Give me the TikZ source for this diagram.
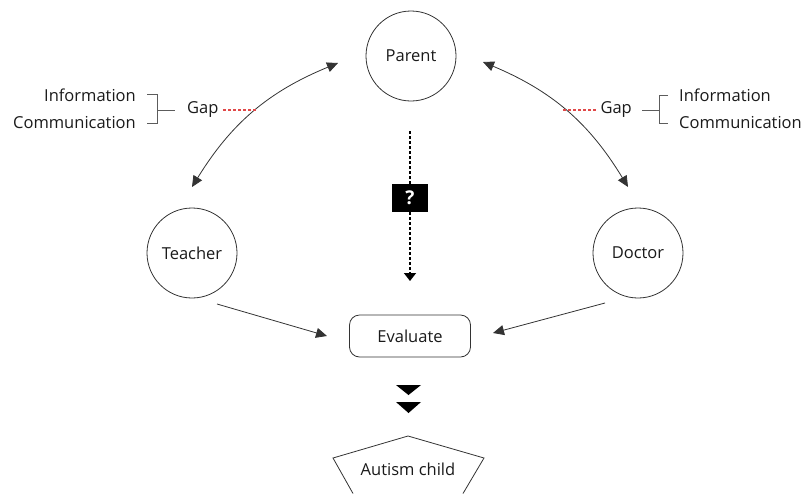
\documentclass[tikz,border=0pt]{standalone}
\usepackage{fontspec}
\setmainfont{Open Sans}
\usetikzlibrary{arrows.meta,shapes.geometric}
\definecolor{linec}{HTML}{333333}
\definecolor{txtc}{HTML}{1A1A1A}
\definecolor{gapred}{HTML}{E04848}
\begin{document}
\begin{tikzpicture}[x=1pt,y=-1pt,
  lbl/.style={font=\fontsize{16.5}{18}\selectfont, text=txtc, inner sep=0pt},
  circ/.style={draw=linec, circle, minimum size=90pt, inner sep=0pt, line width=0.8pt, font=\fontsize{16.5}{18}\selectfont, text=txtc},
  conn/.style={draw=linec, line width=0.8pt, -{Triangle[length=11pt,width=10pt]}},
  biconn/.style={draw=linec, line width=0.8pt, {Triangle[length=11pt,width=10pt]}-{Triangle[length=11pt,width=10pt]}},
  brk/.style={draw=linec!80, line width=0.8pt},
  gapline/.style={draw=gapred, line width=1.1pt, dash pattern=on 3pt off 2pt},
  dotline/.style={draw=black, line width=1.6pt, dash pattern=on 3pt off 2pt},
]
\useasboundingbox (0,0) rectangle (805,493);

% main nodes
\node[circ] (parent) at (411,56) {Parent};
\node[circ] (teacher) at (192,253) {Teacher};
\node[circ] (doctor) at (638,253) {Doctor};
\node[draw=linec, line width=0.8pt, rounded corners=10pt, minimum width=121pt, minimum height=42pt, font=\fontsize{16.5}{18}\selectfont, text=txtc] (evaluate) at (410,336) {Evaluate};

% curved double arrows
\coordinate (pl) at (338,63);
\coordinate (tl) at (192,187);
\coordinate (pr) at (483,62);
\coordinate (dr) at (628,187);
\draw[biconn] (pl) to[bend right=18] (tl);
\draw[biconn] (pr) to[bend left=18] (dr);

% arrows into evaluate
\coordinate (ts) at (217,304);
\coordinate (te) at (327,336);
\coordinate (ds) at (605,303);
\coordinate (de) at (493,333);
\draw[conn] (ts) -- (te);
\draw[conn] (ds) -- (de);

% dotted arrow with question box
\coordinate (dtop) at (410,131);
\coordinate (dtip) at (410,281);
\node[fill=black, minimum width=36pt, minimum height=28pt, inner sep=0pt, text=white, font=\bfseries\fontsize{19}{20}\selectfont] (q) at (410,198) {?};
\draw[dotline] (dtop) -- (q.north);
\draw[dotline, -{Triangle[length=8pt,width=12pt]}] (q.south) -- (dtip);

% double triangles
\fill[black] (396,385) -- (421,385) -- (408.5,395) -- cycle;
\fill[black] (396,402) -- (421,402) -- (408.5,413) -- cycle;

% pentagon
\node[lbl] (autism) at (408,469) {Autism child};
\draw[linec, line width=0.8pt] (353,493.5) -- (333,458) -- (408,436) -- (484,458) -- (463,493.5);

% left labels
\node[lbl, anchor=east] (infoL) at (136,95) {Information};
\node[lbl, anchor=east] (commL) at (136,122.5) {Communication};
\node[lbl, anchor=west] (gapL) at (187,110) {Gap};
\coordinate (bl1) at (147,94.5);
\coordinate (bl2) at (157,94.5);
\coordinate (bl3) at (157,123);
\coordinate (bl4) at (147,123);
\coordinate (blm) at (157,110);
\coordinate (blg) at (175,110);
\draw[brk] (bl1) -- (bl2) -- (bl3) -- (bl4);
\draw[brk] (blm) -- (blg);
\coordinate (gL1) at (223,110);
\coordinate (gL2) at (257,110);
\draw[gapline] (gL1) -- (gL2);

% right labels
\node[lbl, anchor=west] (infoR) at (679,95) {Information};
\node[lbl, anchor=west] (commR) at (679,122.5) {Communication};
\node[lbl, anchor=east] (gapR) at (632,110) {Gap};
\coordinate (br1) at (668,95.5);
\coordinate (br2) at (659,95.5);
\coordinate (br3) at (659,123);
\coordinate (br4) at (668,123);
\coordinate (brm) at (659,110);
\coordinate (brg) at (642,110);
\draw[brk] (br1) -- (br2) -- (br3) -- (br4);
\draw[brk] (brm) -- (brg);
\coordinate (gR1) at (563,110);
\coordinate (gR2) at (597,110);
\draw[gapline] (gR1) -- (gR2);
\end{tikzpicture}
\end{document}
